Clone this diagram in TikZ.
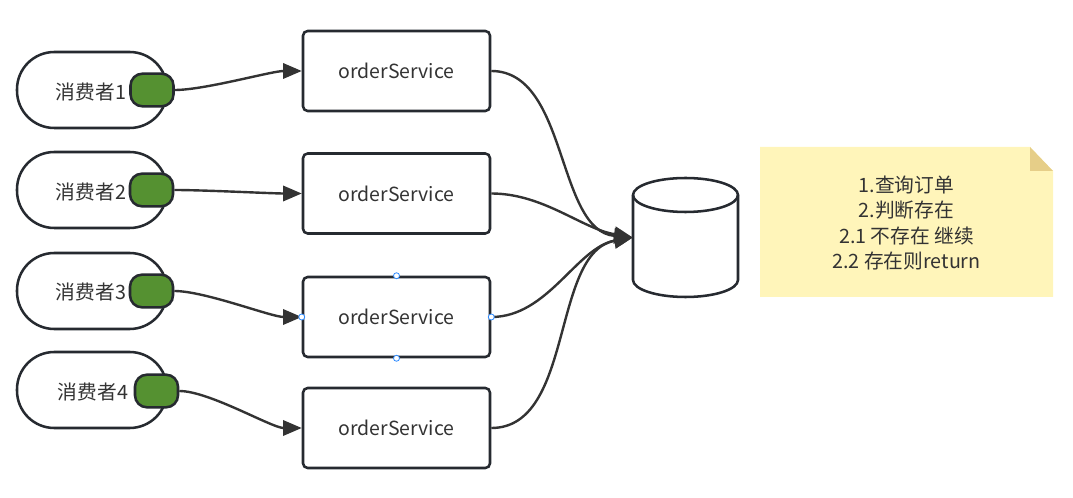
\documentclass[tikz,border=0pt]{standalone}
\usepackage{fontspec}
\setmainfont{Noto Sans CJK SC}
\usetikzlibrary{arrows.meta}
\definecolor{strokec}{HTML}{262A30}
\definecolor{edgec}{HTML}{333333}
\definecolor{greenc}{HTML}{559131}
\definecolor{notec}{HTML}{FFF5BA}
\definecolor{foldc}{HTML}{E6CE88}
\definecolor{textc}{HTML}{333333}
\definecolor{handlec}{HTML}{2E8BFF}
\tikzset{
  pill/.style={draw=strokec, line width=1.9pt, fill=white, rounded corners=28pt,
    minimum width=112.5pt, minimum height=57pt, inner sep=0pt},
  tab/.style={draw=strokec, line width=1.9pt, fill=greenc, rounded corners=9pt,
    minimum width=32.25pt, minimum height=24.5pt, inner sep=0pt},
  svcbox/.style={draw=strokec, line width=1.9pt, fill=white, rounded corners=3.5pt,
    minimum width=140.25pt, minimum height=60pt, inner sep=0pt, text=textc,
    font=\fontsize{14.6pt}{17pt}\selectfont},
  lbl/.style={text=textc, font=\fontsize{14.8pt}{17pt}\selectfont, inner sep=0pt},
  conn/.style={draw=edgec, line width=1.8pt, -{Triangle[length=14pt,width=11.5pt]}},
  handle/.style={circle, draw=handlec, fill=white, line width=0.6pt, minimum size=4.5pt, inner sep=0pt},
}
\begin{document}
\begin{tikzpicture}[x=0.75pt,y=-0.75pt]
\useasboundingbox (0,0) rectangle (1073,498);
% consumers
\node[pill] (c1) at (92,90) {};
\node[pill] (c2) at (92,190) {};
\node[pill] (c3) at (92,291) {};
\node[pill] (c4) at (92,390) {};
\node[lbl] (l1) at (91,92) {消费者1};
\node[lbl] (l2) at (91,192) {消费者2};
\node[lbl] (l3) at (91,292) {消费者3};
\node[lbl] (l4) at (93,392) {消费者4};
\node[tab] (t1) at (152,90) {};
\node[tab] (t2) at (151.5,190) {};
\node[tab] (t3) at (151.5,291) {};
\node[tab] (t4) at (156.5,391) {};
% services
\node[svcbox] (s1) at (396.5,71) {orderService};
\node[svcbox] (s2) at (396.5,193.5) {orderService};
\node[svcbox] (s3) at (396.5,317) {orderService};
\node[svcbox] (s4) at (396.5,428) {orderService};
% database
\node[minimum width=78.75pt, minimum height=89.25pt, inner sep=0pt] (db) at (685.5,237.5) {};
\draw[draw=strokec, line width=1.9pt, fill=white]
  (633,195) -- (633,280) arc[start angle=180, end angle=0, x radius=52.5, y radius=17]
  -- (738,195) arc[start angle=0, end angle=-180, x radius=52.5, y radius=17] -- cycle;
\draw[draw=strokec, line width=1.9pt]
  (633,195) arc[start angle=180, end angle=0, x radius=52.5, y radius=17];
% note
\fill[notec] (760,147) -- (1030,147) -- (1053,171) -- (1053,297) -- (760,297) -- cycle;
\fill[foldc] (1030,147) -- (1030,171) -- (1053,171) -- cycle;
\node[align=center, text=textc, font=\fontsize{14.8pt}{18.8pt}\selectfont, inner sep=0pt] (note) at (906.5,223)
  {1.查询订单\\2.判断存在\\2.1 不存在 继续\\2.2 存在则return};
% connectors consumer -> service
\draw[conn] (t1.east) to[out=0,in=180,looseness=0.6] (s1.west);
\draw[conn] (t2.east) to[out=0,in=180,looseness=0.6] (s2.west);
\draw[conn] (t3.east) to[out=0,in=180,looseness=0.6] (s3.west);
\draw[conn] (t4.east) to[out=0,in=180,looseness=0.6] (s4.west);
% connectors service -> db
\draw[conn] (s1.east) to[out=0,in=175,looseness=0.9] (db.west);
\draw[conn] (s2.east) to[out=0,in=170,looseness=0.9] (db.west);
\draw[conn] (s3.east) to[out=0,in=190,looseness=0.9] (db.west);
\draw[conn] (s4.east) to[out=0,in=190,looseness=0.9] (db.west);
% selection handles on s3
\node[handle] (h1) at (s3.north) {};
\node[handle] (h2) at (s3.south) {};
\node[handle] (h3) at (s3.west) {};
\node[handle] (h4) at (s3.east) {};
\end{tikzpicture}
\end{document}
